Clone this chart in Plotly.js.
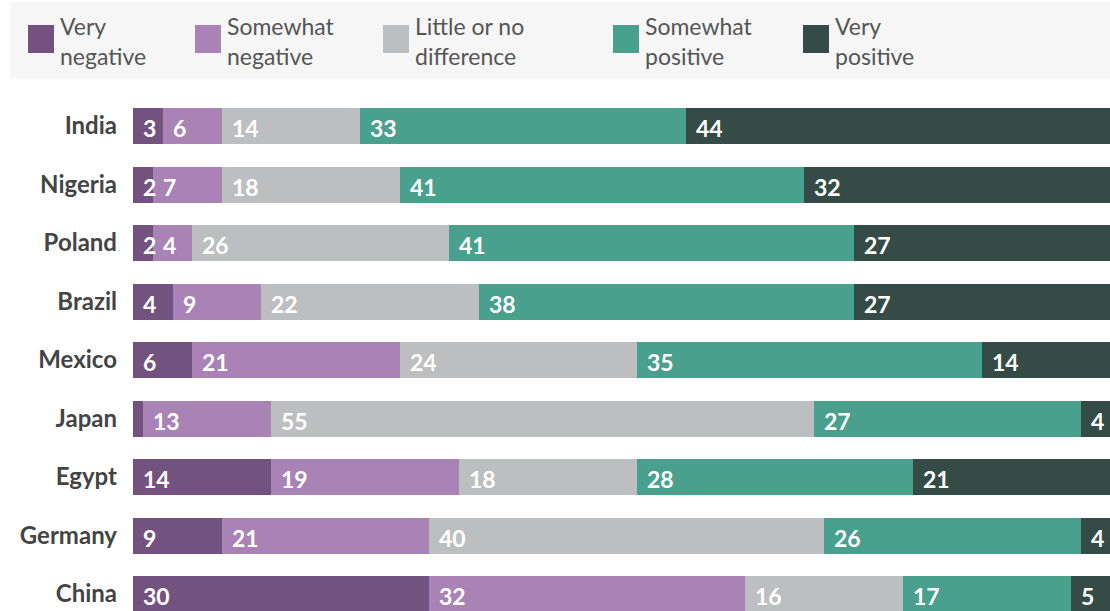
<!DOCTYPE html>
<html><head><meta charset="utf-8">
<script src="https://cdn.plot.ly/plotly-3.0.1.min.js"></script>
<style>html,body{margin:0;padding:0;background:#fff}#chart{width:1110px;height:611px}</style>
</head><body><div id="chart"></div>
<script>
const countries = ["India","Nigeria","Poland","Brazil","Mexico","Japan","Egypt","Germany","China"];
const categories = ["Very<br>negative","Somewhat<br>negative","Little or no<br>difference","Somewhat<br>positive","Very<br>positive"];
const veryNegative     = [3, 2, 2, 4, 6, 1, 14, 9, 30];
const somewhatNegative = [6, 7, 4, 9, 21, 13, 19, 21, 32];
const littleOrNo       = [14, 18, 26, 22, 24, 55, 18, 40, 16];
const somewhatPositive = [33, 41, 41, 38, 35, 27, 28, 26, 17];
const veryPositive     = [44, 32, 27, 27, 14, 4, 21, 4, 5];
const colors = ["#73527f","#a983b6","#bdbec0","#49a08c","#354c46"];

const series = [veryNegative, somewhatNegative, littleOrNo, somewhatPositive, veryPositive];
const traces = series.map((vals, i) => ({
  type: 'bar', orientation: 'h', x: vals, y: countries,
  name: categories[i], marker: {color: colors[i], line: {width: 0}},
  hoverinfo: 'x+y', showlegend: false
}));

const annotations = [];
countries.forEach((c, r) => {
  let start = 0;
  series.forEach((vals) => {
    const v = vals[r];
    if (v >= 2) {
      annotations.push({x: start, y: c, xref: 'x', yref: 'y', text: String(v), showarrow: false,
        xanchor: 'left', yanchor: 'middle', xshift: 8, yshift: -2,
        font: {family: 'Lato', size: 23, color: '#ffffff', weight: 'bold'}});
    }
    start += v;
  });
});

// legend (pixel positions converted to paper coords; plot area l=133, t=96, w=977, h=515)
const legX = [28, 195, 383, 613, 803];
function py(p){ return (611 - p) / 515; }
function px(p){ return (p - 133) / 977; }
const shapes = [{type: 'rect', xref: 'paper', yref: 'paper', x0: px(10), x1: px(1110), y0: py(79), y1: py(2), line: {width: 0}, fillcolor: '#f6f6f6', layer: 'below'}];
categories.forEach((cat, i) => {
  shapes.push({type: 'rect', xref: 'paper', yref: 'paper', x0: px(legX[i]), x1: px(legX[i] + 26), y0: py(53), y1: py(25), line: {width: 0}, fillcolor: colors[i]});
  annotations.push({xref: 'paper', yref: 'paper', x: px(legX[i] + 30), y: py(41), text: cat, showarrow: false,
    xanchor: 'left', yanchor: 'middle', align: 'left',
    font: {family: 'Lato', size: 23, color: '#555555'}});
});

const layout = {
  width: 1110, height: 611,
  margin: {l: 133, r: 0, t: 96, b: 0, pad: 0},
  paper_bgcolor: '#ffffff', plot_bgcolor: '#ffffff',
  barmode: 'stack', bargap: 0.385,
  xaxis: {range: [0, 98.94], visible: false, fixedrange: true},
  yaxis: {type: 'category', categoryorder: 'array', categoryarray: countries,
    range: [8.29, -0.513], showgrid: false, zeroline: false, showline: false, ticks: '',
    ticklabelstandoff: 15,
    tickfont: {family: 'Lato', size: 24, color: '#444444', weight: 'bold'}},
  shapes: shapes, annotations: annotations, showlegend: false
};
Plotly.newPlot('chart', traces, layout, {displayModeBar: false, staticPlot: true});
</script></body></html>
